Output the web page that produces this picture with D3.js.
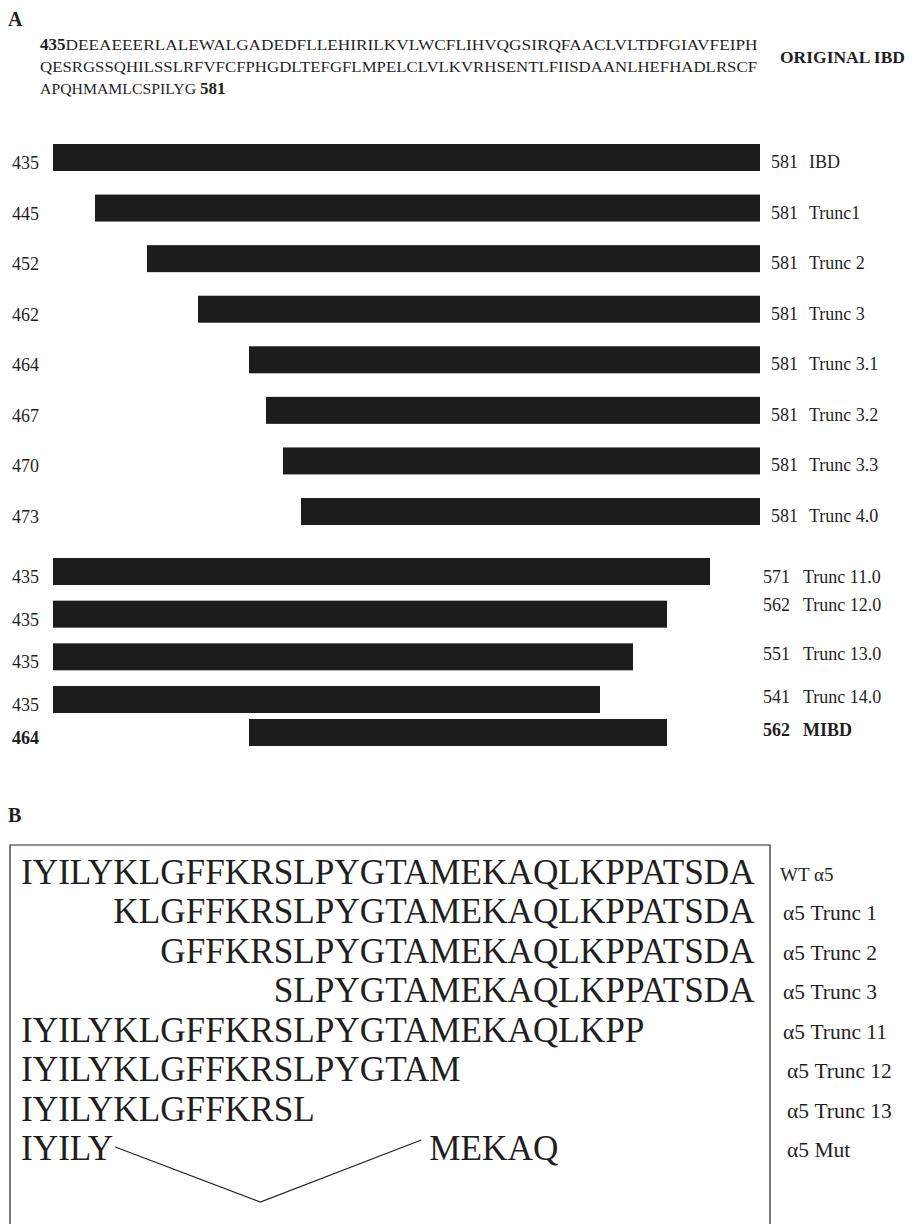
<!DOCTYPE html>
<html>
<head>
<meta charset="utf-8">
<script src="https://cdn.jsdelivr.net/npm/d3@7"></script>
<style>
    body { margin: 0; background: #fff; }
    svg text { font-family: "Liberation Serif", "DejaVu Serif", serif; fill: #1f1f1f; }
</style>
</head>
<body>
<div id="chart"></div>
<script>
// panel A - constructs of the IBD
const constructs = ["IBD", "Trunc1", "Trunc 2", "Trunc 3", "Trunc 3.1", "Trunc 3.2", "Trunc 3.3", "Trunc 4.0",
    "Trunc 11.0", "Trunc 12.0", "Trunc 13.0", "Trunc 14.0", "MIBD"];
const starts = [435, 445, 452, 462, 464, 467, 470, 473, 435, 435, 435, 435, 464];
const ends = [581, 581, 581, 581, 581, 581, 581, 581, 571, 562, 551, 541, 562];
const boldConstruct = "MIBD";

const ibdSeq = [
    "DEEAEEERLALEWALGADEDFLLEHIRILKVLWCFLIHVQGSIRQFAACLVLTDFGIAVFEIPH",
    "QESRGSSQHILSSLRFVFCFPHGDLTEFGFLMPELCLVLKVRHSENTLFIISDAANLHEFHADLRSCF",
    "APQHMAMLCSPILYG"
];

// panel B - alpha5 peptides (index into wt sequence)
const wtSeq = "IYILYKLGFFKRSLPYGTAMEKAQLKPPATSDA";
const peptideNames = ["WT \u03b15", "\u03b15 Trunc 1", "\u03b15 Trunc 2", "\u03b15 Trunc 3",
    "\u03b15 Trunc 11", "\u03b15 Trunc 12", "\u03b15 Trunc 13", "\u03b15 Mut"];
const peptideParts = [
    [[0, 33]],
    [[5, 33]],
    [[7, 33]],
    [[12, 33]],
    [[0, 28]],
    [[0, 20]],
    [[0, 14]],
    [[0, 5], [19, 24]]
];

let width = 913;
let height = 1224;

let svg = d3.select("#chart").append("svg")
    .attr("width", width)
    .attr("height", height)
    .attr("font-family", "'Liberation Serif', 'DejaVu Serif', serif");

// ---------- A ----------
svg.append("text").attr("x", 8).attr("y", 26)
    .attr("font-size", 20).attr("font-weight", "bold").text("A");

let seqLines = svg.append("g");
let lineY = [50, 72, 94];
ibdSeq.forEach((s, i) => {
    let t = seqLines.append("text").attr("x", 40).attr("y", lineY[i]).attr("font-size", 15.5);
    if (i === 0) {
        t.append("tspan").attr("font-weight", "bold").attr("font-size", 17).text("435");
        t.append("tspan").text(s).attr("textLength", 692).attr("lengthAdjust", "spacingAndGlyphs");
    } else if (i === 1) {
        t.append("tspan").text(s).attr("textLength", 717).attr("lengthAdjust", "spacingAndGlyphs");
    } else {
        t.append("tspan").text(s + " ").attr("textLength", 160).attr("lengthAdjust", "spacingAndGlyphs");
        t.append("tspan").attr("font-weight", "bold").attr("font-size", 17).text("581");
    }
});
svg.append("text").attr("x", 780).attr("y", 63)
    .attr("font-size", 17.5).attr("font-weight", "bold").text("ORIGINAL IBD");

// residue positions are not drawn to scale in the figure -> piecewise scale
let residues = Array.from(new Set(starts.concat(ends))).sort((a, b) => a - b);
let x = d3.scaleLinear()
    .domain(residues)
    .range([53, 95, 147, 198, 249, 266, 283, 301, 600, 633, 667, 710, 760]);

let y = d3.scaleLinear()
    .domain([0, 7, 8, 11, 12])
    .range([144, 498, 558, 686, 719]);
// end labels of the lower block sit a bit off the bars
let labelY = d3.scaleLinear()
    .domain([8, 9, 10, 11, 12])
    .range([583, 611, 660, 703, 736]);
let barH = 27;

let rows = constructs.map((name, i) => ({name: name, start: starts[i], end: ends[i], i: i}));

svg.append("g").selectAll("rect")
    .data(rows)
    .enter().append("rect")
    .attr("x", d => x(d.start))
    .attr("y", d => y(d.i))
    .attr("width", d => x(d.end) - x(d.start))
    .attr("height", barH)
    .attr("fill", "#1c1c1c");

rows.forEach(d => {
    let bold = d.name === boldConstruct ? "bold" : "normal";
    svg.append("text")
        .attr("x", 12)
        .attr("y", y(d.i) + barH - 2)
        .attr("font-size", 18)
        .attr("font-weight", bold)
        .text(d.start);

    let upper = d.i < 8;
    let ry = upper ? y(d.i) + barH - 3 : labelY(d.i);
    svg.append("text")
        .attr("x", upper ? 771 : 763)
        .attr("y", ry)
        .attr("font-size", 18)
        .attr("font-weight", bold)
        .text(d.end);
    svg.append("text")
        .attr("x", upper ? 809 : 803)
        .attr("y", ry)
        .attr("font-size", 18)
        .attr("font-weight", bold)
        .text(d.name);
});

// ---------- B ----------
svg.append("text").attr("x", 8).attr("y", 822)
    .attr("font-size", 20).attr("font-weight", "bold").text("B");

svg.append("path")
    .attr("d", "M10,1230 V845 H770 V1230")
    .attr("fill", "none")
    .attr("stroke", "#222")
    .attr("stroke-width", 1.2);

let seqX0 = 21;
let seqX1 = 755;
// size the big sequence so the wt row fills the box, then measure residue offsets
let probe = svg.append("text").attr("font-size", 34).attr("x", 0).attr("y", -100).text(wtSeq);
let seqSize = 34 * (seqX1 - seqX0) / probe.node().getComputedTextLength();
probe.attr("font-size", seqSize);
function offset(k) {
    return k === 0 ? 0 : probe.node().getSubStringLength(0, k);
}

let rowY = d3.scaleLinear().domain([0, 7]).range([884, 1160]);

peptideParts.forEach((parts, i) => {
    parts.forEach(p => {
        svg.append("text")
            .attr("x", seqX0 + offset(p[0]))
            .attr("y", rowY(i))
            .attr("font-size", seqSize)
            .text(wtSeq.slice(p[0], p[1]));
    });
    if (parts.length > 1) {
        // deletion marker
        let x1 = seqX0 + offset(parts[0][1]) + 2;
        let x2 = seqX0 + offset(parts[1][0]) - 8;
        let xm = (x1 + x2) / 2 - 8;
        svg.append("path")
            .attr("d", "M" + x1 + "," + (rowY(i) - 13) + " L" + xm + "," + (rowY(i) + 42) +
                " L" + x2 + "," + (rowY(i) - 20))
            .attr("fill", "none")
            .attr("stroke", "#222")
            .attr("stroke-width", 1.2);
    }
    svg.append("text")
        .attr("x", i === 0 ? 780 : (i < 5 ? 783 : 787))
        .attr("y", rowY(i) - 3)
        .attr("font-size", i === 0 ? 19 : 21.5)
        .text(peptideNames[i]);
});
probe.remove();
</script>
</body>
</html>
